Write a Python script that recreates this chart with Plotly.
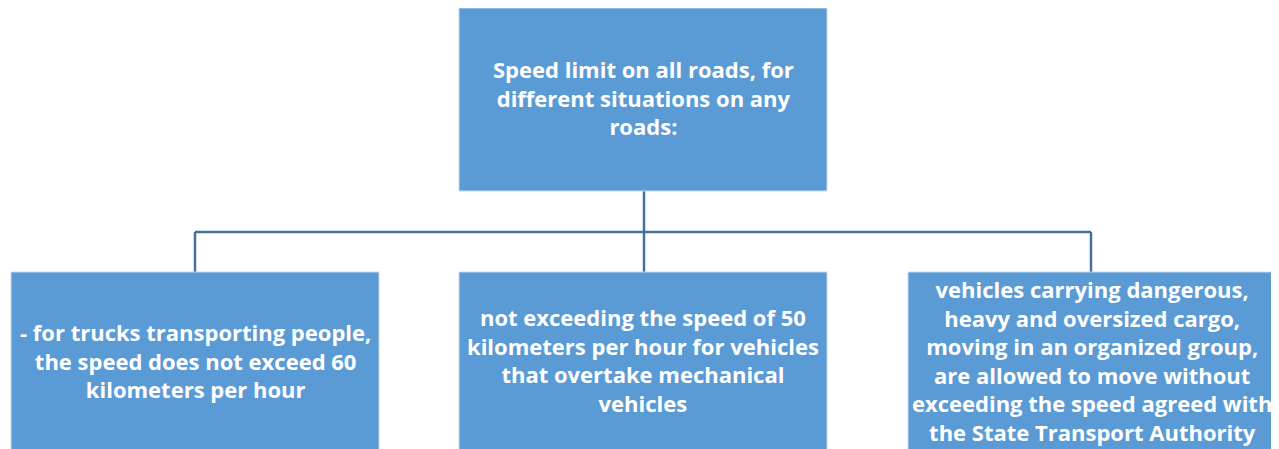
import plotly.graph_objects as go

# ---- content ----
root_text = ["Speed limit on all roads, for", "different situations on any", "roads:"]
child_texts = [
    ["- for trucks transporting people,", "the speed does not exceed 60", "kilometers per hour"],
    ["not exceeding the speed of 50", "kilometers per hour for vehicles", "that overtake mechanical", "vehicles"],
    ["vehicles carrying dangerous,", "heavy and oversized cargo,", "moving in an organized group,", "are allowed to move without",
     "exceeding the speed agreed with", "the State Transport Authority"],
]

# ---- layout geometry (page pixels) ----
W, H = 1279, 449
OFF = 8  # default body margin of the html page
root_box = (459, 8, 827, 191)
child_boxes = [(11, 272, 379, 452), (459, 272, 827, 452), (908, 272, 1276, 452)]
bus_y = 232

FILL = "#5B9BD5"
EDGE = "#C5DAF0"
LINE = "#41719C"
FONT = "Open Sans"
FS = 22

fig = go.Figure()
fig.add_trace(go.Scatter(x=[OFF, W], y=[OFF, H], mode="markers", marker=dict(opacity=0), hoverinfo="skip", showlegend=False))

shapes = []
annots = []

def add_box(b, lines):
    x0, y0, x1, y1 = b
    shapes.append(dict(type="rect", x0=x0, y0=y0, x1=x1, y1=y1, fillcolor=FILL,
                       line=dict(color=EDGE, width=1), layer="above"))
    annots.append(dict(x=(x0 + x1) / 2, y=(y0 + y1) / 2 - 2, text="<b>" + "<br>".join(lines) + "</b>",
                       showarrow=False, xanchor="center", yanchor="middle",
                       font=dict(family=FONT, size=FS, color="white"), align="center"))

# connectors
rcx = (root_box[0] + root_box[2]) / 2 + 1
shapes.append(dict(type="line", x0=rcx, y0=root_box[3], x1=rcx, y1=child_boxes[1][1], line=dict(color=LINE, width=2.5)))
cxs = [(b[0] + b[2]) / 2 for b in child_boxes]
shapes.append(dict(type="line", x0=cxs[0], y0=bus_y, x1=cxs[2] - 1, y1=bus_y, line=dict(color=LINE, width=2.5)))
for i in (0, 2):
    cx = cxs[i] - (1 if i == 2 else 0)
    shapes.append(dict(type="line", x0=cx, y0=bus_y, x1=cx, y1=child_boxes[i][1], line=dict(color=LINE, width=2.5)))

add_box(root_box, root_text)
for b, t in zip(child_boxes, child_texts):
    add_box(b, t)

fig.update_layout(
    width=W - OFF, height=H - OFF, margin=dict(l=0, r=0, t=0, b=0),
    paper_bgcolor="white", plot_bgcolor="white",
    xaxis=dict(range=[OFF, W], visible=False, fixedrange=True),
    yaxis=dict(range=[H, OFF], visible=False, fixedrange=True),
    shapes=shapes, annotations=annots, showlegend=False,
)
fig.write_html("out.html")
